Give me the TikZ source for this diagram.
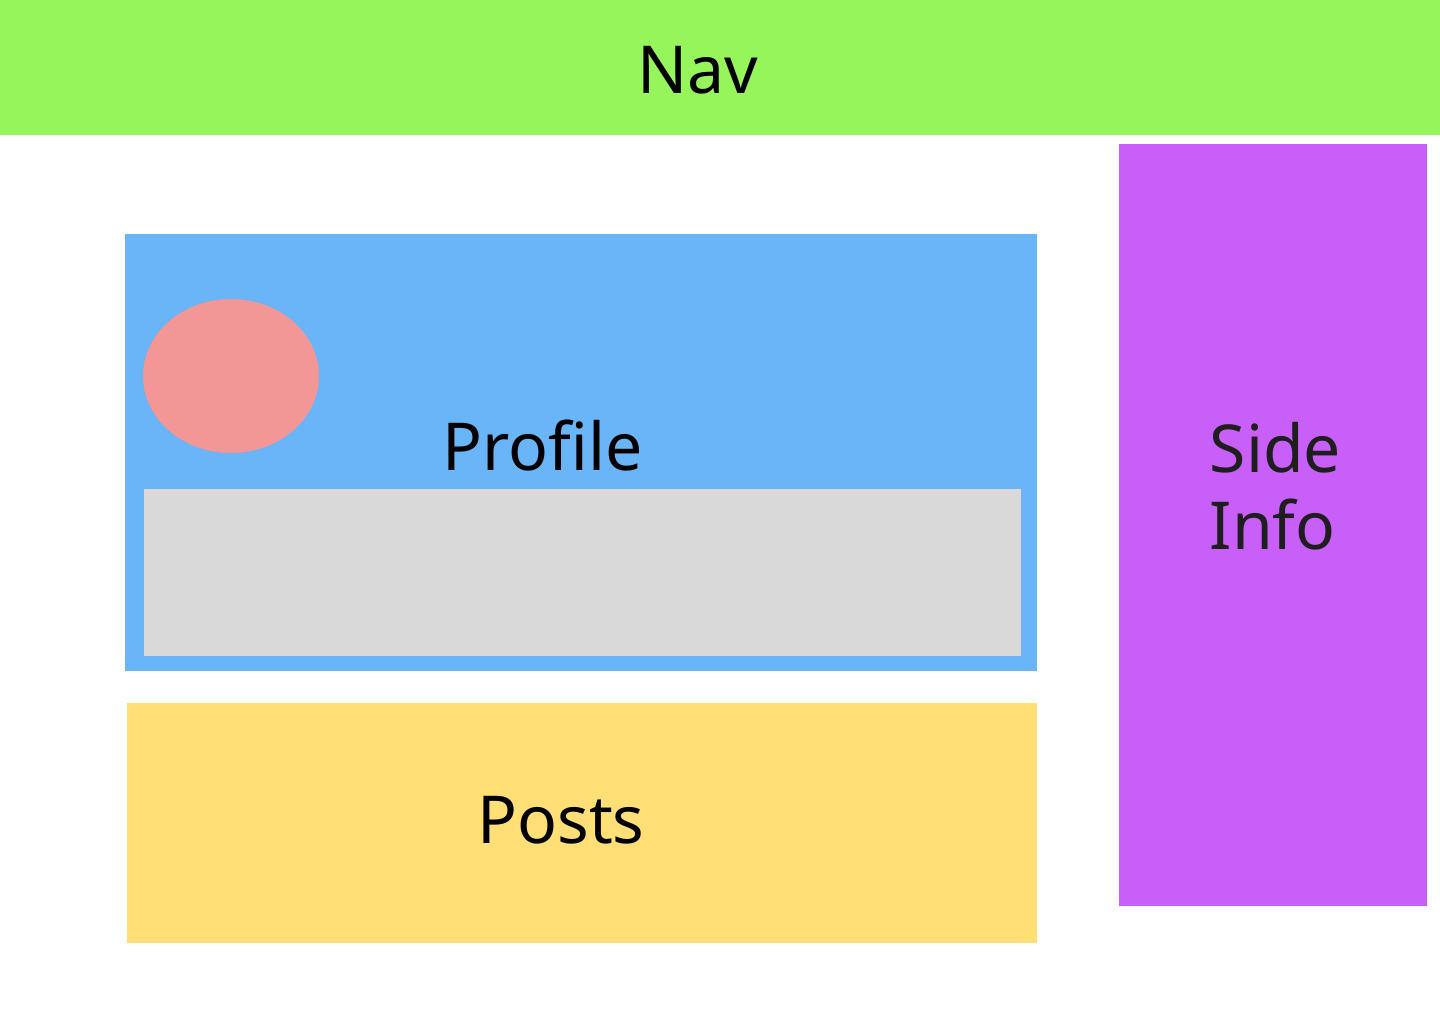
\documentclass[tikz,border=0pt]{standalone}
\usepackage{fontspec}
\setmainfont{Noto Sans}
\usepackage{xcolor}
\usepackage{tikz}
\usetikzlibrary{positioning}
\definecolor{navgreen}{HTML}{97F55C}
\definecolor{sidepurple}{HTML}{C85FF9}
\definecolor{profblue}{HTML}{6AB4F8}
\definecolor{avatarpink}{HTML}{F29696}
\definecolor{bioGray}{HTML}{D9D9D9}
\definecolor{postyellow}{HTML}{FFDF76}
\definecolor{darktext}{HTML}{1E1E1E}

\begin{document}
\begin{tikzpicture}[x=0.01cm, y=-0.01cm,
        lbl/.style={inner sep=0pt, font=\fontsize{18.8}{21.9}\selectfont}]
        \useasboundingbox (0,0) rectangle (1440,1024);
        \fill[white] (0,0) rectangle (1440,1024);
        % Nav bar
        \fill[navgreen] (0,0) rectangle (1440,135);
        \node[lbl] (nav) at (698,70) {Nav};
        % Side info
        \fill[sidepurple] (1119,144) rectangle (1427,906);
        \node[lbl, text=darktext, align=left, anchor=north west] (side) at (1209,422) {Side\\Info};
        % Profile card
        \fill[profblue] (125,234) rectangle (1037,671);
        \fill[avatarpink] (231,376) ellipse (88 and 77);
        \node[lbl] (profile) at (543,446) {Profile};
        \fill[bioGray] (144,489) rectangle (1021,656);
        % Posts
        \fill[postyellow] (127,703) rectangle (1037,943);
        \node[lbl] (posts) at (561,820) {Posts};
    \end{tikzpicture}
\end{document}
